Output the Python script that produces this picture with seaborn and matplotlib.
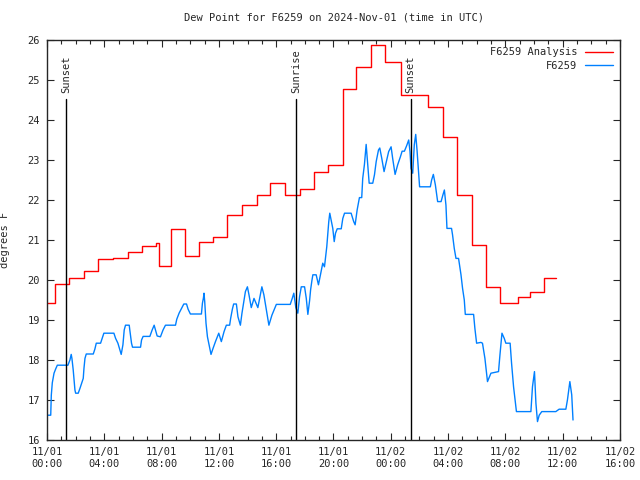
import numpy as np
import pandas as pd
import matplotlib
matplotlib.use("Agg")
import matplotlib.pyplot as plt
import matplotlib.dates as mdates
import seaborn as sns

sns.set_style("ticks")
plt.rcParams["font.family"] = ["DejaVu Sans Mono"]
plt.rcParams["font.size"] = 7.5

START = pd.Timestamp("2024-11-01 00:00")

# observed dew point (hours since 11/01 00:00 UTC, degrees F)
obs_hours = [
    0.00, 0.26, 0.30, 0.37, 0.49, 0.61, 0.72, 1.46, 1.60, 1.69, 1.74, 1.83, 1.95, 2.00,
    2.18, 2.30, 2.42, 2.53, 2.58, 2.65, 2.74, 3.23, 3.34, 3.44, 3.74, 3.85, 3.97, 4.67,
    4.79, 4.95, 5.09, 5.18, 5.30, 5.39, 5.48, 5.74, 5.78, 5.90, 5.97, 6.53, 6.60, 6.71,
    7.18, 7.34, 7.48, 7.60, 7.69, 7.92, 8.10, 8.27, 8.97, 9.06, 9.22, 9.39, 9.55, 9.74,
    9.85, 10.01, 10.78, 10.85, 10.92, 10.96, 11.01, 11.10, 11.20, 11.34, 11.45, 11.59,
    11.76, 11.99, 12.17, 12.36, 12.52, 12.75, 12.82, 12.94, 13.03, 13.22, 13.33, 13.50,
    13.61, 13.75, 13.85, 13.99, 14.10, 14.26, 14.45, 14.72, 15.00, 15.14, 15.33, 15.49,
    15.70, 16.01, 16.98, 17.12, 17.23, 17.37, 17.51, 17.63, 17.75, 17.98, 18.10, 18.21,
    18.33, 18.40, 18.49, 18.56, 18.79, 18.95, 19.09, 19.25, 19.37, 19.44, 19.53, 19.60,
    19.67, 19.74, 19.95, 20.05, 20.14, 20.26, 20.54, 20.65, 20.77, 21.23, 21.41, 21.51,
    21.65, 21.81, 21.97, 22.04, 22.16, 22.28, 22.39, 22.49, 22.74, 22.86, 22.98, 23.14,
    23.23, 23.37, 23.53, 23.69, 23.85, 24.02, 24.13, 24.30, 24.48, 24.67, 24.79, 24.95,
    25.11, 25.25, 25.34, 25.41, 25.53, 25.64, 25.74, 25.83, 25.92, 26.01, 26.76, 26.85,
    26.97, 27.11, 27.27, 27.51, 27.64, 27.74, 27.85, 27.92, 28.24, 28.31, 28.43, 28.55,
    28.73, 28.90, 29.01, 29.13, 29.20, 29.78, 29.87, 29.99, 30.29, 30.40, 30.57, 30.75,
    30.99, 31.52, 31.62, 31.76, 31.92, 32.03, 32.33, 32.43, 32.57, 32.77, 33.78, 33.89,
    34.03, 34.13, 34.24, 34.36, 34.54, 35.52, 35.75, 36.22, 36.33, 36.50, 36.63, 36.72,
]
obs_dewpt = [
    16.62, 16.62, 17.12, 17.43, 17.67, 17.78, 17.87, 17.87, 18.00, 18.14, 18.04, 17.75, 17.25, 17.17,
    17.17, 17.29, 17.42, 17.54, 17.79, 18.04, 18.15, 18.15, 18.27, 18.42, 18.42, 18.54, 18.67, 18.67,
    18.54, 18.42, 18.25, 18.14, 18.38, 18.75, 18.87, 18.87, 18.75, 18.42, 18.32, 18.32, 18.50, 18.59,
    18.59, 18.75, 18.87, 18.71, 18.60, 18.58, 18.75, 18.87, 18.87, 19.02, 19.17, 19.29, 19.40, 19.40,
    19.27, 19.15, 19.15, 19.42, 19.55, 19.67, 19.46, 18.92, 18.58, 18.33, 18.14, 18.29,
    18.46, 18.67, 18.46, 18.71, 18.87, 18.87, 19.04, 19.27, 19.40, 19.40, 19.08, 18.87,
    19.17, 19.48, 19.71, 19.83, 19.63, 19.31, 19.54, 19.31, 19.83, 19.63, 19.21, 18.87,
    19.12, 19.39, 19.39, 19.54, 19.67, 19.31, 19.17, 19.58, 19.83, 19.83, 19.54, 19.14,
    19.48, 19.75, 19.98, 20.13, 20.13, 19.88, 20.13, 20.42, 20.33, 20.54, 20.83, 21.13,
    21.46, 21.67, 21.29, 20.96, 21.17, 21.28, 21.28, 21.54, 21.67, 21.67, 21.46, 21.38,
    21.75, 22.06, 22.06, 22.54, 22.89, 23.39, 22.89, 22.42, 22.42, 22.63, 22.96, 23.25,
    23.30, 23.04, 22.71, 22.96, 23.21, 23.33, 23.04, 22.64, 22.88, 23.08, 23.22, 23.22,
    23.36, 23.50, 23.21, 22.79, 22.67, 23.38, 23.64, 23.25, 22.79, 22.33, 22.33, 22.50,
    22.64, 22.38, 21.96, 21.96, 22.13, 22.25, 21.87, 21.29, 21.29, 21.13, 20.79, 20.54,
    20.54, 20.13, 19.79, 19.50, 19.14, 19.14, 18.79, 18.42, 18.44, 18.42, 18.04, 17.46,
    17.67, 17.71, 18.13, 18.67, 18.54, 18.42, 18.42, 17.92, 17.33, 16.71, 16.71, 17.33,
    17.71, 16.92, 16.46, 16.62, 16.71, 16.71, 16.77, 16.77, 17.00, 17.46, 17.13, 16.50,
]

# hourly analysis (step changes)
ana_hours = [
    0.00, 0.58, 1.57, 2.59, 3.57, 4.62, 5.62, 6.62, 7.61, 7.84, 8.69, 9.62, 10.64, 11.59,
    12.59, 13.61, 14.63, 15.60, 16.61, 17.63, 18.64, 19.60, 20.63, 21.60, 22.60, 23.57,
    24.69, 26.62, 27.62, 28.64, 29.64, 30.64, 31.62, 32.87, 33.71, 34.68, 35.52,
]
ana_dewpt = [
    19.42, 19.89, 20.04, 20.22, 20.52, 20.55, 20.70, 20.84, 20.92, 20.34, 21.27, 20.59, 20.95, 21.07,
    21.63, 21.88, 22.13, 22.42, 22.13, 22.27, 22.69, 22.87, 24.77, 25.33, 25.87, 25.44,
    24.62, 24.32, 23.57, 22.13, 20.87, 19.82, 19.42, 19.57, 19.69, 20.04, 20.04,
]

sun_labels = ["Sunset", "Sunrise", "Sunset"]
sun_times = ["2024-11-01 01:20", "2024-11-01 17:22", "2024-11-02 01:23"]

obs = pd.DataFrame({"time": START + pd.to_timedelta(obs_hours, unit="h"), "dewpt": obs_dewpt})
ana = pd.DataFrame({"time": START + pd.to_timedelta(ana_hours, unit="h"), "dewpt": ana_dewpt})

fig = plt.figure(figsize=(6.4, 4.8), dpi=100)
ax = fig.add_axes([47 / 640, 40 / 480, 573 / 640, 400 / 480])

sns.lineplot(data=ana, x="time", y="dewpt", ax=ax, color="#ff0000", lw=1.0,
             drawstyle="steps-post", label="F6259 Analysis")
sns.lineplot(data=obs, x="time", y="dewpt", ax=ax, color="#0080ff", lw=1.0,
             label="F6259")

for lab, t in zip(sun_labels, sun_times):
    t = pd.Timestamp(t)
    ax.plot([t, t], [16, 24.52], color="black", lw=1.0)
    ax.text(t, 24.68, lab, rotation=90, ha="center", va="bottom", fontsize=7.5)

ax.set_xlim(START, pd.Timestamp("2024-11-02 16:00"))
ax.set_ylim(16, 26)
ax.set_yticks(np.arange(16, 27, 1))
ax.xaxis.set_major_locator(mdates.HourLocator(byhour=range(0, 24, 4)))
ax.xaxis.set_minor_locator(mdates.HourLocator())
ax.xaxis.set_major_formatter(mdates.DateFormatter("%m/%d\n%H:%M"))
ax.tick_params(axis="both", which="major", direction="in", length=5, width=0.8,
               top=True, right=True, labelsize=7.5, pad=5)
ax.tick_params(axis="x", which="minor", direction="in", length=3, width=0.8, top=True)
for s in ax.spines.values():
    s.set_linewidth(1.0)

ax.set_xlabel("")
ax.set_ylabel("degrees F", fontsize=7.5)
ax.yaxis.set_label_coords(-0.065, 0.5)
ax.set_title("Dew Point for F6259 on 2024-Nov-01 (time in UTC)", fontsize=7.5, pad=14)

ax.legend(loc="upper right", frameon=False, markerfirst=False, fontsize=7.5,
          handlelength=2.7, handletextpad=0.7, labelspacing=0.35,
          borderaxespad=0.3)

fig.savefig("out.png", dpi=100)
